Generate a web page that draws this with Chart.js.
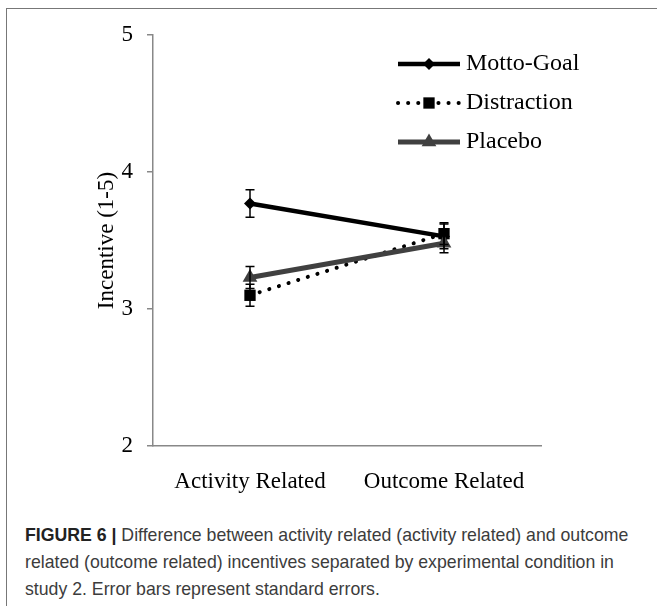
<!DOCTYPE html>
<html>
<head>
<meta charset="utf-8">
<script src="https://cdn.jsdelivr.net/npm/chart.js@4.4.1/dist/chart.umd.min.js"></script>
<style>
  body { margin: 0; background: #fff; }
  #wrap { position: relative; width: 657px; height: 606px; overflow: hidden; }
  #frame { position: absolute; left: 6px; top: 8px; width: 700px; height: 700px;
           border-top: 1.5px solid #777; border-left: 1.5px solid #777; }
  #chart { position: absolute; left: 0; top: 0; }
  #caption { position: absolute; left: 25px; top: 522px; width: 625px;
             font: 17.7px "Liberation Sans", Arial, sans-serif; line-height: 27px; color: #3c3c3c; }
  #caption b { color: #222; }
</style>
</head>
<body>
<div id="wrap">
  <div id="frame"></div>
  <canvas id="chart" width="657" height="500"></canvas>
  <div id="caption"><b>FIGURE 6 |</b> Difference between activity related (activity related) and outcome related (outcome related) incentives separated by experimental condition in study 2. Error bars represent standard errors.</div>
</div>
<script>
const categories = ['Activity Related', 'Outcome Related'];
const mottoGoal = [3.77, 3.53];
const mottoGoalErr = [0.10, 0.09];
const distraction = [3.10, 3.55];
const distractionErr = [0.08, 0.08];
const placebo = [3.23, 3.48];
const placeboErr = [0.08, 0.07];
const yTicks = [2, 3, 4, 5];

const serif = { family: '"Liberation Serif", "Times New Roman", serif', size: 23 };

// standard error whiskers, drawn on top of the markers
const errorBars = {
  id: 'errorBars',
  afterDatasetsDraw(chart) {
    const { ctx, scales: { x, y } } = chart;
    ctx.save();
    ctx.strokeStyle = '#000';
    ctx.lineWidth = 1.5;
    chart.data.datasets.forEach(ds => {
      ds.data.forEach((v, i) => {
        const px = x.getPixelForValue(i);
        const top = y.getPixelForValue(v + ds.errors[i]);
        const bot = y.getPixelForValue(v - ds.errors[i]);
        ctx.beginPath();
        ctx.moveTo(px, top); ctx.lineTo(px, bot);
        ctx.moveTo(px - 4.5, top); ctx.lineTo(px + 4.5, top);
        ctx.moveTo(px - 4.5, bot); ctx.lineTo(px + 4.5, bot);
        ctx.stroke();
      });
    });
    ctx.restore();
  }
};

// legend inside the plot, top right
const insideLegend = {
  id: 'insideLegend',
  afterDraw(chart) {
    const { ctx, chartArea } = chart;
    const x0 = chartArea.left + 245, x1 = chartArea.left + 307;
    ctx.save();
    chart.data.datasets.forEach((ds, i) => {
      const yy = chartArea.top + 29 + i * 39;
      ctx.beginPath();
      ctx.strokeStyle = ds.borderColor;
      ctx.lineWidth = ds.borderWidth;
      ctx.lineCap = ds.borderCapStyle || 'butt';
      ctx.setLineDash(ds.borderDash || []);
      ctx.moveTo(x0, yy); ctx.lineTo(x1, yy);
      ctx.stroke();
      ctx.setLineDash([]);
      ctx.fillStyle = ds.pointBackgroundColor;
      Chart.helpers.drawPoint(ctx, { pointStyle: ds.pointStyle, radius: ds.pointRadius, borderWidth: 0 }, (x0 + x1) / 2, yy);
      ctx.fillStyle = '#000';
      ctx.font = '24px "Liberation Serif", "Times New Roman", serif';
      ctx.textBaseline = 'middle';
      ctx.fillText(ds.label, x1 + 6, yy);
    });
    ctx.restore();
  }
};

new Chart(document.getElementById('chart'), {
  type: 'line',
  data: {
    labels: categories,
    datasets: [
      {
        label: 'Motto-Goal',
        data: mottoGoal,
        errors: mottoGoalErr,
        borderColor: '#000',
        borderWidth: 4.5,
        pointStyle: 'rectRot',
        pointRadius: 6,
        pointBackgroundColor: '#000',
        pointBorderWidth: 0,
        order: 3,
      },
      {
        label: 'Distraction',
        data: distraction,
        errors: distractionErr,
        borderColor: '#000',
        borderWidth: 4,
        borderDash: [0.1, 10],
        borderCapStyle: 'round',
        pointStyle: 'rect',
        pointRadius: 8,
        pointBackgroundColor: '#000',
        pointBorderWidth: 0,
        order: 2,
      },
      {
        label: 'Placebo',
        data: placebo,
        errors: placeboErr,
        borderColor: '#404040',
        borderWidth: 5,
        pointStyle: 'triangle',
        pointRadius: 8.5,
        pointBackgroundColor: '#404040',
        pointBorderWidth: 0,
        order: 1,
      },
    ],
  },
  options: {
    responsive: false,
    animation: false,
    devicePixelRatio: 1,
    layout: { padding: { left: 93, top: 35, right: 116, bottom: 0 } },
    plugins: { legend: { display: false }, tooltip: { enabled: false } },
    elements: { line: { tension: 0 } },
    scales: {
      x: {
        offset: true,
        grid: { display: false },
        border: { display: true, color: '#888', width: 1.5 },
        ticks: { color: '#000', font: serif, padding: 14 },
        afterFit(s) { s.height = 54; },
      },
      y: {
        min: 2,
        max: 5,
        afterBuildTicks(s) { s.ticks = yTicks.map(v => ({ value: v })); },
        grid: { drawOnChartArea: false, drawTicks: true, tickLength: 6, color: '#888', lineWidth: 1.5 },
        border: { color: '#888', width: 1.5 },
        ticks: { color: '#000', font: serif, padding: 14 },
        title: { display: true, text: 'Incentive (1-5)', color: '#000', font: serif, padding: { top: 0, bottom: 0 } },
        afterFit(s) { s.width = 153 - 93; },
      },
    },
  },
  plugins: [errorBars, insideLegend],
});
</script>
</body>
</html>
